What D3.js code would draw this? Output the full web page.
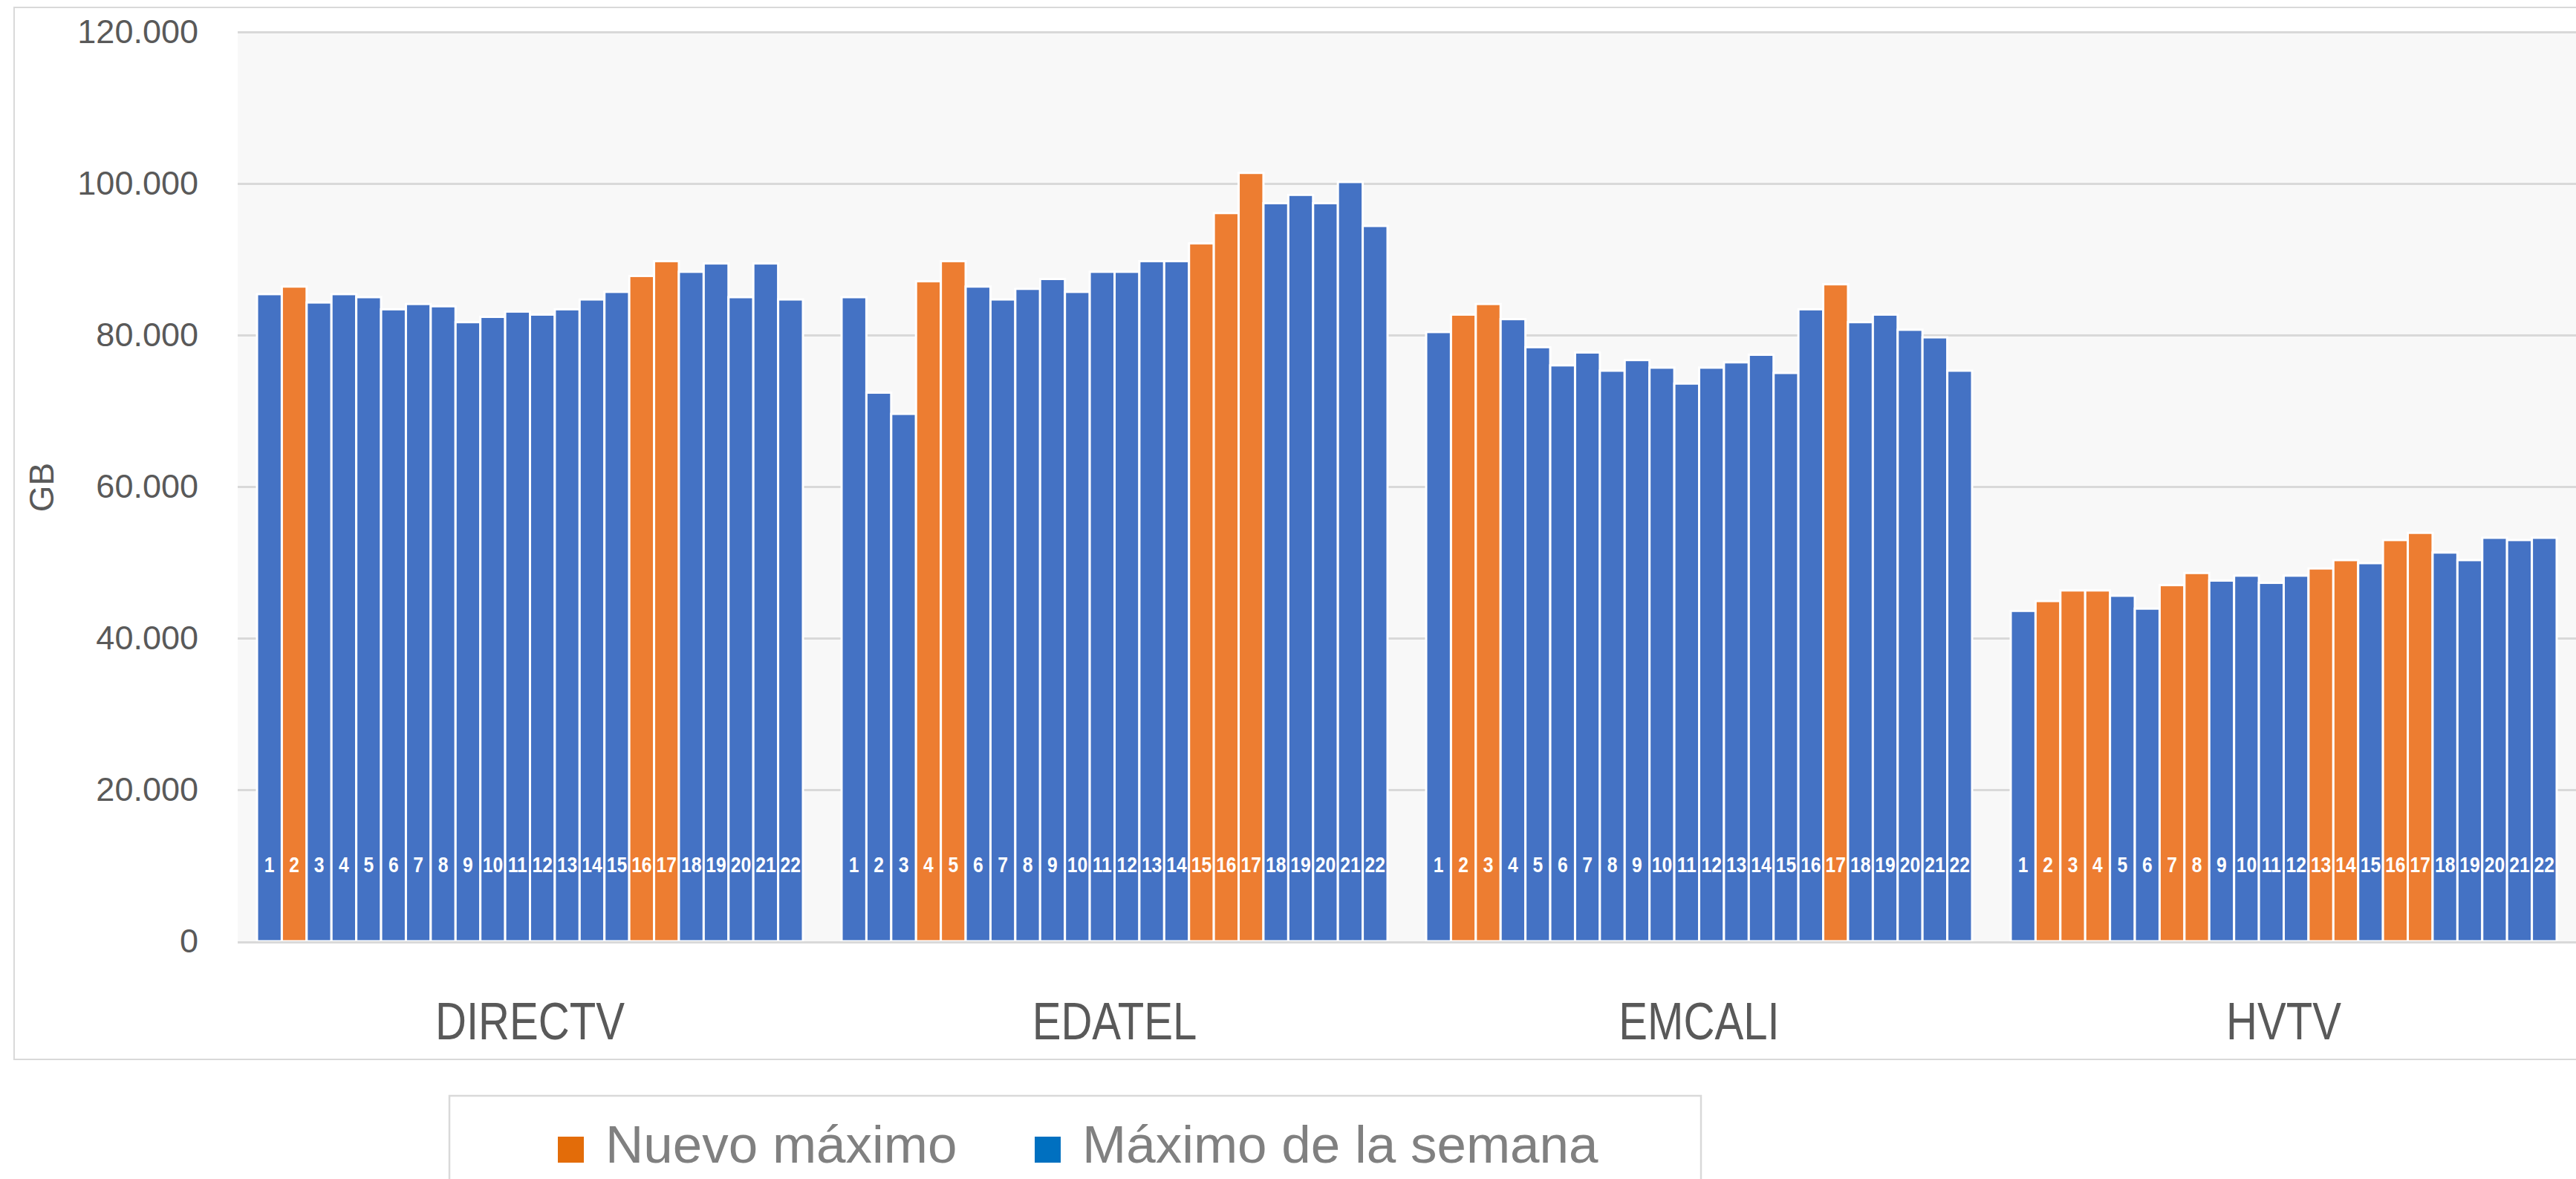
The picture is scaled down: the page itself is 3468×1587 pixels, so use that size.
<!DOCTYPE html>
<html>
<head>
<meta charset="utf-8">
<script src="https://d3js.org/d3.v7.min.js"></script>
<style>
  body { margin: 0; background: #ffffff; }
  text { font-family: "Liberation Sans", Arial, sans-serif; }
</style>
</head>
<body>
<div class="chart"></div>
<script>
// Data (GB)
var categories = ["DIRECTV", "EDATEL", "EMCALI", "HVTV"];
var days = ["1", "2", "3", "4", "5", "6", "7", "8", "9", "10", "11",
  "12", "13", "14", "15", "16", "17", "18", "19", "20", "21", "22"];

var directv = [85400, 86400, 84300, 85400, 85000, 83400, 84100, 83800, 81700, 82400, 83100,
  82700, 83400, 84700, 85700, 87800, 89750, 88350, 89450, 85000, 89450, 84700];
var edatel = [85000, 72400, 69600, 87100, 89750, 86400, 84700, 86100, 87400, 85700, 88350,
  88350, 89750, 89750, 92100, 96100, 101400, 97400, 98500, 97400, 100200, 94400];
var emcali = [80400, 82700, 84100, 82100, 78400, 76000, 77700, 75300, 76700, 75700, 73600,
  75700, 76400, 77400, 75000, 83400, 86700, 81700, 82700, 80700, 79700, 75300];
var hvtv = [43600, 44900, 46300, 46300, 45600, 43900, 47000, 48600, 47600, 48250, 47300,
  48250, 49200, 50300, 49900, 52950, 53900, 51300, 50300, 53250, 52950, 53250];

// days that set a new maximum (orange)
var directvNew = [2, 16, 17];
var edatelNew = [4, 5, 15, 16, 17];
var emcaliNew = [2, 3, 17];
var hvtvNew = [2, 3, 4, 7, 8, 13, 14, 16, 17];

var yTicks = [0, 20000, 40000, 60000, 80000, 100000, 120000];
var legendLabels = ["Nuevo máximo", "Máximo de la semana"];

var svgWidth = 3468;
var svgHeight = 1587;

var margin = {
  top: 43,
  right: 0,
  bottom: 320,
  left: 320
};

var width = svgWidth - margin.left - margin.right;
var height = svgHeight - margin.top - margin.bottom;

var blue = "#4472C4";
var orange = "#ED7D31";

var svg = d3.select(".chart")
  .append("svg")
  .attr("width", svgWidth)
  .attr("height", svgHeight)
  .style("display", "block");

// outer chart border
svg.append("rect")
  .attr("x", 19)
  .attr("y", 10)
  .attr("width", svgWidth)
  .attr("height", 1416)
  .attr("fill", "#ffffff")
  .attr("stroke", "#d9d9d9")
  .attr("stroke-width", 2);

var chartGroup = svg.append("g")
  .attr("transform", `translate(${margin.left}, ${margin.top})`);

// flatten the series
var series = [directv, edatel, emcali, hvtv];
var newMax = [directvNew, edatelNew, emcaliNew, hvtvNew];
var rows = [];
categories.forEach(function(c, i) {
  series[i].forEach(function(v, j) {
    rows.push({ cat: c, day: days[j], value: v, isNew: newMax[i].indexOf(j + 1) >= 0 });
  });
});

// Scales
var x0 = d3.scaleBand()
  .domain(categories)
  .range([0, width]);

var x1 = d3.scaleBand()
  .domain(days)
  .range([26, x0.bandwidth() - 26]);

var y = d3.scaleLinear()
  .domain([0, 120000])
  .range([height, 0]);

var fmt = d3.formatLocale({ decimal: ",", thousands: ".", grouping: [3], currency: ["$", ""] }).format(",");

// plot background
chartGroup.append("rect")
  .attr("width", width)
  .attr("height", height)
  .attr("fill", "#f8f8f8");

// gridlines
var grid = chartGroup.append("g")
  .call(d3.axisLeft(y).tickValues(yTicks.slice(1)).tickSize(-width).tickFormat(""));
grid.select(".domain").remove();
grid.selectAll("line")
  .attr("stroke", "#d9d9d9")
  .attr("stroke-width", 3);

// y labels
var yAxis = chartGroup.append("g")
  .call(d3.axisLeft(y).tickValues(yTicks).tickSize(0).tickPadding(53).tickFormat(fmt));
yAxis.select(".domain").remove();
yAxis.selectAll("text")
  .attr("font-size", 45)
  .attr("fill", "#595959");

// bars
chartGroup.selectAll("rect.bar")
  .data(rows)
  .enter()
  .append("rect")
  .attr("class", "bar")
  .attr("x", d => x0(d.cat) + x1(d.day))
  .attr("y", d => y(d.value))
  .attr("width", x1.bandwidth())
  .attr("height", d => height - y(d.value))
  .attr("fill", d => d.isNew ? orange : blue)
  .attr("stroke", "#ffffff")
  .attr("stroke-width", 3);

// baseline
chartGroup.append("line")
  .attr("x1", 0)
  .attr("x2", width)
  .attr("y1", height + 1.5)
  .attr("y2", height + 1.5)
  .attr("stroke", "#d9d9d9")
  .attr("stroke-width", 3);

// day numbers inside the bars
chartGroup.selectAll("text.day")
  .data(rows)
  .enter()
  .append("text")
  .attr("class", "day")
  .attr("transform", d => `translate(${x0(d.cat) + x1(d.day) + x1.bandwidth() / 2}, ${y(0) - 93}) scale(0.85, 1)`)
  .attr("text-anchor", "middle")
  .attr("font-size", 29)
  .attr("font-weight", "bold")
  .attr("fill", "#ffffff")
  .text(d => d.day);

// category axis
var xAxis = chartGroup.append("g")
  .attr("transform", `translate(0, ${height})`)
  .call(d3.axisBottom(x0).tickSize(0).tickPadding(82));
xAxis.select(".domain").remove();
xAxis.selectAll("text")
  .attr("font-size", 70)
  .attr("fill", "#595959")
  .attr("transform", "scale(0.83, 1)");

// axis title
svg.append("text")
  .attr("transform", "translate(56, 656) rotate(-90)")
  .attr("text-anchor", "middle")
  .attr("dy", "0.35em")
  .attr("font-size", 46)
  .attr("fill", "#595959")
  .text("GB");

// legend
svg.append("rect")
  .attr("x", 605)
  .attr("y", 1475)
  .attr("width", 1685)
  .attr("height", 200)
  .attr("fill", "none")
  .attr("stroke", "#d9d9d9")
  .attr("stroke-width", 2.5);

var legendColors = ["#E36C09", "#0070C0"];
var legendX = [751, 1393];
var legend = svg.selectAll("g.legend")
  .data(legendLabels)
  .enter()
  .append("g")
  .attr("class", "legend")
  .attr("transform", (d, i) => `translate(${legendX[i]}, 1530)`);

legend.append("rect")
  .attr("width", 35)
  .attr("height", 35)
  .attr("fill", (d, i) => legendColors[i]);

legend.append("text")
  .attr("x", 64)
  .attr("y", 35)
  .attr("font-size", 71)
  .attr("fill", "#808080")
  .text(d => d);
</script>
</body>
</html>
